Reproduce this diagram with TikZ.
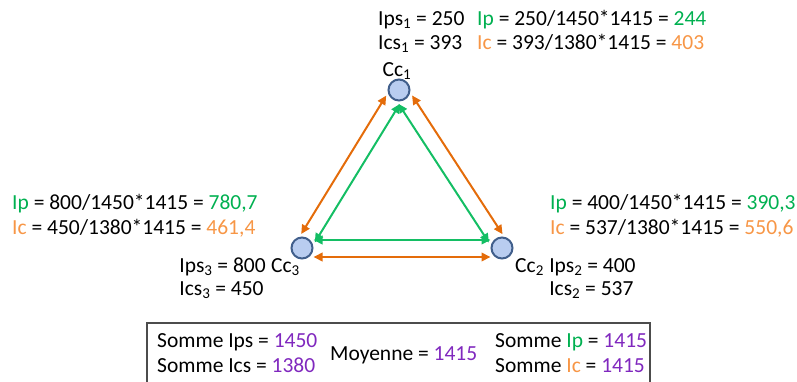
\documentclass[tikz,border=0pt]{standalone}
\usepackage{fontspec}
\setmainfont{Carlito}
\usetikzlibrary{arrows.meta}
\definecolor{ipgreen}{RGB}{0,176,80}
\definecolor{icorange}{RGB}{247,150,70}
\definecolor{arrorange}{RGB}{228,108,10}
\definecolor{arrgreen}{RGB}{20,190,100}
\definecolor{sumpurple}{RGB}{128,40,190}
\definecolor{ccfill}{RGB}{185,205,240}
\definecolor{ccdraw}{RGB}{65,95,140}
\begin{document}
\begin{tikzpicture}[x=1pt, y=-1pt,
  % Node styles
  cc/.style={circle, minimum size=21pt, inner sep=0pt, fill=ccfill, draw=ccdraw, line width=2pt},
  txt/.style={anchor=base west, inner sep=0pt, font=\fontsize{21.5}{24}\selectfont},
  % Edge styles
  pflow/.style={<->, >={Triangle[length=9pt, width=8.5pt]}, arrgreen, line width=2pt},
  cflow/.style={<->, >={Triangle[length=9pt, width=8.5pt]}, arrorange, line width=2pt},
  % Box style
  sumbox/.style={draw=black!70, line width=1.3pt},
]
\useasboundingbox (0,0) rectangle (797,381);

% === NODES ===
\node[cc] (C1) at (399,90)  {};
\node[cc] (C2) at (502,248) {};
\node[cc] (C3) at (302,248) {};

\node[txt, anchor=base] (L1) at (397,76) {Cc\textsubscript{1}};
\node[txt, anchor=base east] (L3) at (300,272) {Cc\textsubscript{3}};
\node[txt] (L2) at (515,272) {Cc\textsubscript{2}};

% ============================================================
% 1. Ic EDGES (orange, outside)
% ============================================================
\draw[cflow, transform canvas={shift={(-6.8,-4.2)}}] (C1) -- (C3);
\draw[cflow, transform canvas={shift={(6.8,-4.2)}}]  (C1) -- (C2);
\draw[cflow, transform canvas={shift={(0,9)}}]       (C3) -- (C2);

% ============================================================
% 2. Ip EDGES (green, inside)
% ============================================================
\draw[pflow, transform canvas={shift={(6.8,4.2)}}]   (C1) -- (C3);
\draw[pflow, transform canvas={shift={(-6.8,4.2)}}]  (C1) -- (C2);
\draw[pflow, transform canvas={shift={(0,-8)}}]      (C3) -- (C2);

% ============================================================
% 3. VALUES
% ============================================================
% Cc1
\node[txt] (ips1) at (378,25) {Ips\textsubscript{1} = 250};
\node[txt] (ics1) at (378,49) {Ics\textsubscript{1} = 393};
\node[txt] (ip1) at (477,25) {\textcolor{ipgreen}{Ip} = 250/1450*1415 = \textcolor{ipgreen}{244}};
\node[txt] (ic1) at (477,49) {\textcolor{icorange}{Ic} = 393/1380*1415 = \textcolor{icorange}{403}};
% Cc3
\node[txt] (ip3) at (12,209) {\textcolor{ipgreen}{Ip} = 800/1450*1415 = \textcolor{ipgreen}{780,7}};
\node[txt] (ic3) at (12,234) {\textcolor{icorange}{Ic} = 450/1380*1415 = \textcolor{icorange}{461,4}};
\node[txt, anchor=base east] (ips3) at ([xshift=-5pt]L3.base west) {Ips\textsubscript{3} = 800};
\node[txt] (ics3) at (ips3.base west |- 0,295) {Ics\textsubscript{3} = 450};
% Cc2
\node[txt] (ip2) at (550,209) {\textcolor{ipgreen}{Ip} = 400/1450*1415 = \textcolor{ipgreen}{390,3}};
\node[txt] (ic2) at (550,234) {\textcolor{icorange}{Ic} = 537/1380*1415 = \textcolor{icorange}{550,6}};
\node[txt] (ips2) at ([xshift=5pt]L2.base east) {Ips\textsubscript{2} = 400};
\node[txt] (ics2) at (ips2.base west |- 0,295) {Ics\textsubscript{2} = 537};

% ============================================================
% SUMS (box, bottom)
% ============================================================
\draw[sumbox] (147,323) rectangle (650,395);
\node[txt] (sips) at (157,347) {Somme Ips = \textcolor{sumpurple}{1450}};
\node[txt] (sics) at (157,372) {Somme Ics = \textcolor{sumpurple}{1380}};
\node[txt] (moy)  at (330,360) {Moyenne = \textcolor{sumpurple}{1415}};
\node[txt] (sip)  at (495,347) {Somme \textcolor{ipgreen}{Ip} = \textcolor{sumpurple}{1415}};
\node[txt] (sic)  at (495,372) {Somme \textcolor{icorange}{Ic} = \textcolor{sumpurple}{1415}};

\end{tikzpicture}
\end{document}
